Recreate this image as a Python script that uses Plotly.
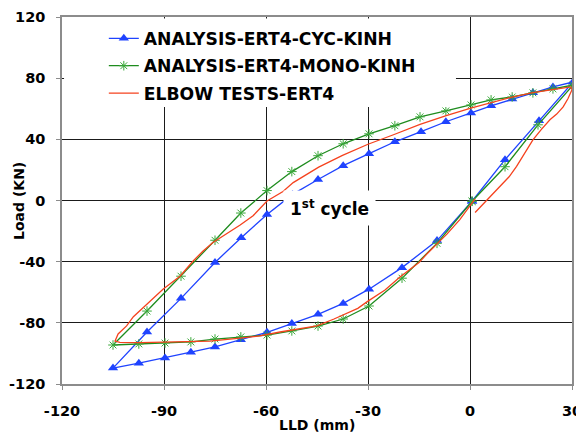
import plotly.graph_objects as go

# ---------------- data ----------------
cyc_x = [0.6, 10.3, 20.3, 30.3, 24.4, 18.5, 12.4, 6.2, 0.3, -7.1, -14.4, -22.1, -29.7, -37.3,
         -44.7, -52.2, -59.7, -67.3, -75, -85, -95, -105, -97.4, -89.7, -82.1, -75, -67.4,
         -59.7, -52.4, -44.7, -37.3, -29.7, -20, -9.7, 0.6]
cyc_y = [-0.5, 26.7, 52.1, 77.5, 74.3, 70.4, 66.4, 61.9, 57.3, 51.5, 45.0, 38.4, 30.6, 22.8,
         13.7, 4.0, -9.1, -24.3, -40.5, -64, -86, -109.6, -106.4, -103, -99.2, -95.8, -91.1,
         -86.2, -80.5, -74.4, -67.3, -58, -43.9, -26.2, -0.5]

mono_x = [0.6, 10.3, 20, 30.3, 24.4, 18.5, 12.4, 6.2, 0.3, -7.1, -14.7, -22.1, -29.7, -37.3,
          -44.7, -52.4, -59.7, -67.4, -75, -85, -95, -105, -97.4, -89.7, -82.1, -75, -67.4,
          -59.7, -52.4, -44.7, -37.3, -29.7, -20, -9.7, 0.6]
mono_y = [-0.5, 22.1, 49.5, 75.5, 73, 70.4, 67.7, 65.8, 62.5, 58.6, 54.7, 48.9, 43.6, 37.1,
          29.3, 18.9, 6.5, -8.2, -26, -49.5, -72.3, -94.5, -93.8, -93.2, -92.5, -90.6, -89.2,
          -88, -85.3, -82.1, -77.5, -69, -50.8, -28, -0.5]

test_x = [1.5, 5, 8.8, 11.5, 13.7, 16.2, 18.5, 21, 23.5, 25.5, 27.4, 28.8, 30, 29.6,
          24.4, 18.5, 12.4, 6.2, 0.5, -7, -14.7, -22.5, -30, -37.5, -44.5, -52, -55, -59.7,
          -63.8, -67.6, -71, -75.6, -78.5, -81.5, -85.3, -90.3, -95.6, -99, -101, -103.5,
          -104.4, -103, -97, -91, -83, -76.5, -67.6, -61.8, -55.9, -50, -45, -40, -37.3,
          -33, -30, -25, -20.6, -15, -12.7, -6.8, -3, 0.6, 1.5]
test_y = [-7.8, 0.6, 9.1, 15.5, 22.3, 31.5, 39.7, 46.5, 52.8, 56.5, 61.2, 66.5, 72.5, 74.3,
          72.6, 70.5, 67.6, 64, 60.6, 55.5, 49.8, 43, 36.8, 29.5, 21.8, 11.7, 5.9, -0.3,
          -10, -16, -21, -27.4, -33, -39.7, -49.5, -58, -69, -76, -82, -87.3,
          -91.9, -92.8, -93, -92.8, -92.3, -91.9, -90, -88.6, -86, -84, -82, -77.5, -74.6,
          -70.5, -65.8, -58.5, -50, -40.5, -35, -22, -12.5, -1.5, 1.0]

x_ticks = [-120, -90, -60, -30, 0, 30]
y_ticks = [-120, -80, -40, 0, 40, 80, 120]

# ---------------- figure ----------------
FONT = "DejaVu Sans"
fig = go.Figure()

fig.add_trace(go.Scatter(
    x=cyc_x, y=cyc_y, mode="lines+markers", name="ANALYSIS-ERT4-CYC-KINH",
    legendgroup="a",
    line=dict(color="#1f43ff", width=1.3),
    marker=dict(symbol="triangle-up", size=9, color="#1f43ff"),
))
fig.add_trace(go.Scatter(
    x=mono_x, y=mono_y, mode="lines+markers", name="ANALYSIS-ERT4-MONO-KINH",
    legendgroup="b",
    line=dict(color="#1e8c1e", width=1.3),
    marker=dict(symbol="asterisk-open", size=8, color="#3aa83a",
                line=dict(color="#3aa83a", width=1)),
))
fig.add_trace(go.Scatter(
    x=test_x, y=test_y, mode="lines", name="ELBOW TESTS-ERT4",
    legendgroup="c",
    line=dict(color="#f5421e", width=1.3),
))

axis_common = dict(
    showline=True, linecolor="#8c8c8c", linewidth=1.5, mirror=True,
    showgrid=True, gridcolor="#1a1a1a", gridwidth=1,
    zeroline=False, automargin=False,
    ticks="outside", ticklen=4, tickcolor="#8c8c8c",
    tickfont=dict(family=FONT, size=14.5, color="black", weight="bold"),
)

fig.update_xaxes(
    range=[-120, 30], tickvals=x_ticks, ticktext=[str(v) for v in x_ticks],
    ticklabelstandoff=9,
    **axis_common,
)
fig.update_yaxes(
    range=[-120, 120], tickvals=y_ticks, ticktext=[str(v) for v in y_ticks],
    ticklabelstandoff=8,
    **axis_common,
)

# white box behind the legend (hides the grid there)
fig.add_shape(type="rect", xref="paper", yref="paper",
              x0=0.004, x1=0.7725, y0=0.755, y1=0.996,
              fillcolor="white", line=dict(width=0), layer="above")

fig.add_annotation(
    text="1<sup>st</sup> cycle", x=-41.3, y=-4.6, xref="x", yref="y",
    showarrow=False, bgcolor="white", borderpad=6,
    font=dict(family=FONT, size=17, color="black", weight="bold"),
)
fig.add_annotation(
    text="Load (KN)", textangle=-90, x=-0.0853, y=0.5, xref="paper", yref="paper",
    showarrow=False, xanchor="center", yanchor="middle",
    font=dict(family=FONT, size=14, color="black", weight="bold"),
)
fig.add_annotation(
    text="LLD (mm)", x=0.5, y=-0.112, xref="paper", yref="paper",
    showarrow=False, xanchor="center", yanchor="middle",
    font=dict(family=FONT, size=14, color="black", weight="bold"),
)

# the page body has an 8px margin: size/offset the figure so the plot area
# lands where the reference has it in the 584x433 window
fig.update_layout(
    width=576, height=425,
    margin=dict(l=54, r=12, t=9, b=49, autoexpand=False),
    paper_bgcolor="white", plot_bgcolor="white",
    showlegend=True,
    legend=dict(
        x=0.082, y=0.99, xanchor="left", yanchor="top",
        bgcolor="rgba(0,0,0,0)", borderwidth=0,
        traceorder="grouped", tracegroupgap=2,
        font=dict(family=FONT, size=17.2, color="black", weight="bold"),
    ),
)

fig.write_html("out.html")
